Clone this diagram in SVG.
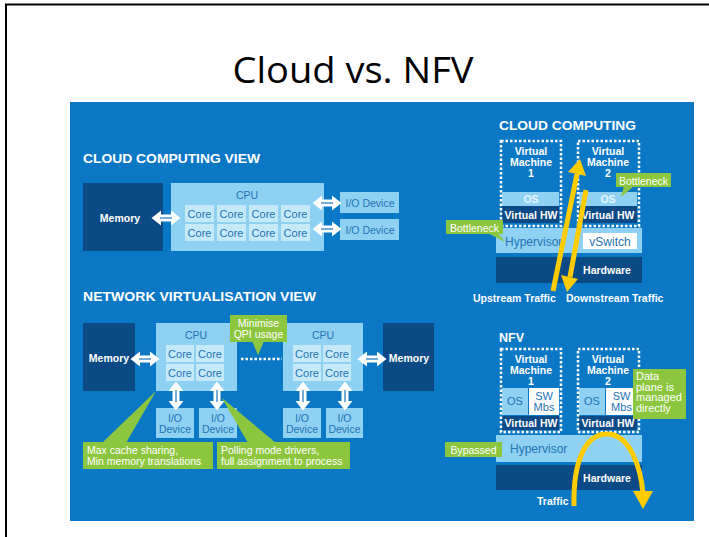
<svg xmlns="http://www.w3.org/2000/svg" width="709" height="537" viewBox="0 0 709 537">
<defs>
<style>
text{font-family:"Liberation Sans",Arial,sans-serif}
.h{fill:#fff;font-weight:bold;font-size:12.5px}
.w{fill:#fff;font-size:10.5px}
.wb{fill:#fff;font-size:10.5px;font-weight:bold}
.b{fill:#1f73b5;font-size:10.5px}
.dark{fill:#0c4a86}
.lb{fill:#8ed1f3}
.core{fill:#c6e9fa}
.grn{fill:#8cc63f}
.vm{fill:none;stroke:#fff;stroke-width:2.5;stroke-dasharray:2.5 2}
.yl{fill:none;stroke:#ffcc00;stroke-width:5}
.ya{fill:#ffcc00}
</style>
<g id="dbl">
<path d="M-14.5,0 L-5,-7.5 L-5,-3.5 L5,-3.5 L5,-7.5 L14.5,0 L5,7.5 L5,3.5 L-5,3.5 L-5,7.5 Z" fill="#fff"/>
<path d="M-6,0 H6" stroke="#2a7fc2" stroke-width="1.3"/>
</g>
</defs>
<rect width="709" height="537" fill="#fff"/>
<rect x="6" y="4.5" width="730" height="560" fill="none" stroke="#000" stroke-width="2"/>
<text x="353" y="83" font-size="37" text-anchor="middle" textLength="241" lengthAdjust="spacingAndGlyphs" style="font-family:'Open Sans','Liberation Sans',sans-serif" fill="#000">Cloud vs. NFV</text>
<rect x="70" y="102" width="624" height="419" fill="#0b78c6"/>

<!-- CLOUD COMPUTING VIEW -->
<text class="h" x="83" y="163" textLength="177" lengthAdjust="spacingAndGlyphs">CLOUD COMPUTING VIEW</text>
<g id="cc-memory"><rect class="dark" x="83" y="183" width="80" height="68"/><text class="wb" x="120" y="222" text-anchor="middle" font-size="11">Memory</text></g>
<g id="cc-cpu"><rect class="lb" x="171" y="183" width="153" height="68"/><text class="b" x="247" y="199" text-anchor="middle" font-size="11">CPU</text>
<g class="core">
<rect x="185" y="205" width="29" height="17"/><rect x="217" y="205" width="29" height="17"/><rect x="249" y="205" width="29" height="17"/><rect x="281" y="205" width="29" height="17"/>
<rect x="185" y="224" width="29" height="17"/><rect x="217" y="224" width="29" height="17"/><rect x="249" y="224" width="29" height="17"/><rect x="281" y="224" width="29" height="17"/>
</g>
<g class="b" text-anchor="middle" style="font-size:11px">
<text x="199.5" y="217.5">Core</text><text x="231.5" y="217.5">Core</text><text x="263.5" y="217.5">Core</text><text x="295.5" y="217.5">Core</text>
<text x="199.5" y="236.5">Core</text><text x="231.5" y="236.5">Core</text><text x="263.5" y="236.5">Core</text><text x="295.5" y="236.5">Core</text>
</g></g>
<g id="cc-io1"><rect class="lb" x="340" y="192" width="59" height="21"/><text class="b" x="370" y="206.5" text-anchor="middle">I/O Device</text></g>
<g id="cc-io2"><rect class="lb" x="340" y="219" width="59" height="21"/><text class="b" x="370" y="233.5" text-anchor="middle">I/O Device</text></g>

<!-- NETWORK VIRTUALISATION VIEW -->
<text class="h" x="83" y="301" textLength="233" lengthAdjust="spacingAndGlyphs">NETWORK VIRTUALISATION VIEW</text>
<g id="nv-mem1"><rect class="dark" x="83" y="323" width="52" height="68"/><text class="wb" x="109" y="362" text-anchor="middle" font-size="11">Memory</text></g>
<g id="nv-mem2"><rect class="dark" x="383" y="323" width="51" height="68"/><text class="wb" x="409" y="362" text-anchor="middle" font-size="11">Memory</text></g>
<g id="nv-cpu1"><rect class="lb" x="156" y="323" width="81" height="68"/><text class="b" x="196" y="339" text-anchor="middle" font-size="11">CPU</text>
<g class="core"><rect x="166" y="345" width="28" height="17"/><rect x="196" y="345" width="28" height="17"/><rect x="166" y="364" width="28" height="17"/><rect x="196" y="364" width="28" height="17"/></g>
<g class="b" text-anchor="middle" style="font-size:11px"><text x="180" y="357.5">Core</text><text x="210" y="357.5">Core</text><text x="180" y="376.5">Core</text><text x="210" y="376.5">Core</text></g></g>
<g id="nv-cpu2"><rect class="lb" x="283" y="323" width="80" height="68"/><text class="b" x="323" y="339" text-anchor="middle" font-size="11">CPU</text>
<g class="core"><rect x="293" y="345" width="28" height="17"/><rect x="323" y="345" width="28" height="17"/><rect x="293" y="364" width="28" height="17"/><rect x="323" y="364" width="28" height="17"/></g>
<g class="b" text-anchor="middle" style="font-size:11px"><text x="307" y="357.5">Core</text><text x="337" y="357.5">Core</text><text x="307" y="376.5">Core</text><text x="337" y="376.5">Core</text></g></g>
<g id="nv-io1"><rect class="lb" x="156" y="408" width="38" height="30"/><text class="b" x="175" y="422" text-anchor="middle">I/O</text><text class="b" x="175" y="433" text-anchor="middle">Device</text></g>
<g id="nv-io2"><rect class="lb" x="199" y="408" width="38" height="30"/><text class="b" x="218" y="422" text-anchor="middle">I/O</text><text class="b" x="218" y="433" text-anchor="middle">Device</text></g>
<g id="nv-io3"><rect class="lb" x="283" y="408" width="38" height="30"/><text class="b" x="302" y="422" text-anchor="middle">I/O</text><text class="b" x="302" y="433" text-anchor="middle">Device</text></g>
<g id="nv-io4"><rect class="lb" x="326" y="408" width="37" height="30"/><text class="b" x="344.5" y="422" text-anchor="middle">I/O</text><text class="b" x="344.5" y="433" text-anchor="middle">Device</text></g>

<g id="connectors">
<use href="#dbl" transform="translate(166,218)"/>
<use href="#dbl" transform="translate(327,203)"/>
<use href="#dbl" transform="translate(327,229)"/>
<use href="#dbl" transform="translate(145,359)"/>
<use href="#dbl" transform="translate(372,359)"/>
<use href="#dbl" transform="translate(176,396) rotate(90)"/>
<use href="#dbl" transform="translate(217,396) rotate(90)"/>
<use href="#dbl" transform="translate(303,396) rotate(90)"/>
<use href="#dbl" transform="translate(345,396) rotate(90)"/>
<path d="M241,359 H282" stroke="#fff" stroke-width="2.5" stroke-dasharray="2.5 2"/>
</g>

<g id="qpi"><polygon class="grn" points="252,341 264,341 258,355"/><rect class="grn" x="230" y="315" width="57" height="27"/>
<text class="w" x="258.5" y="327" text-anchor="middle" font-size="11">Minimise</text><text class="w" x="258.5" y="338" text-anchor="middle" font-size="11">QPI usage</text></g>
<g id="callout-cache"><polygon class="grn" points="102,443 126,443 156,391"/><rect class="grn" x="83" y="442" width="130" height="27"/>
<text class="w" x="87" y="453.5" font-size="11">Max cache sharing,</text><text class="w" x="87" y="465" font-size="11">Min memory translations</text></g>
<g id="callout-poll"><polygon class="grn" points="248,443 276,443 222,398"/><rect class="grn" x="217" y="442" width="133" height="27"/>
<text class="w" x="221" y="453.5" font-size="11">Polling mode drivers,</text><text class="w" x="221" y="465" font-size="11">full assignment to process</text></g>

<!-- CLOUD COMPUTING (right) -->
<text class="h" x="499" y="130" font-size="13" textLength="137" lengthAdjust="spacingAndGlyphs">CLOUD COMPUTING</text>
<g id="cc-hyper"><rect class="lb" x="496" y="228" width="146" height="25"/><text class="b" x="505" y="245.5" style="font-size:12px">Hypervisor</text>
<rect x="583" y="233" width="54" height="16" fill="#fff"/><text class="b" x="610" y="245.5" text-anchor="middle" style="font-size:12px">vSwitch</text></g>
<g id="cc-hw"><rect class="dark" x="496" y="257" width="146" height="26"/><text class="wb" x="607" y="274" text-anchor="middle">Hardware</text></g>
<g id="cc-vm1"><rect class="lb" x="502" y="192" width="57" height="14"/><rect class="dark" x="502" y="206" width="57" height="17"/>
<rect class="vm" x="501" y="141" width="60" height="85"/>
<g class="wb" text-anchor="middle" style="font-size:10.5px"><text x="531" y="155">Virtual</text><text x="531" y="166">Machine</text><text x="531" y="177">1</text><text x="531" y="203" fill="#e6f6ff">OS</text><text x="531" y="218.5">Virtual HW</text></g></g>
<g id="cc-vm2"><rect class="lb" x="579" y="192" width="58" height="14"/><rect class="dark" x="579" y="206" width="58" height="17"/>
<rect class="vm" x="578" y="141" width="61" height="85"/>
<g class="wb" text-anchor="middle" style="font-size:10.5px"><text x="608" y="155">Virtual</text><text x="608" y="166">Machine</text><text x="608" y="177">2</text><text x="608" y="203" fill="#e6f6ff">OS</text><text x="608" y="218.5">Virtual HW</text></g></g>
<g id="cc-traffic">
<path class="yl" d="M553,291 L577,174"/><polygon class="ya" points="580,159 586,176 568,172"/>
<path class="yl" d="M586,190 L570,277"/><polygon class="ya" points="567,292 561,275 578,279"/>
</g>
<g id="bottleneck1"><polygon class="grn" points="488,233 498,233 505,242"/><rect class="grn" x="446" y="220" width="57" height="14"/><text class="w" x="474.5" y="231.5" text-anchor="middle" font-size="11">Bottleneck</text></g>
<g id="bottleneck2"><polygon class="grn" points="624,186 634,186 621,197"/><rect class="grn" x="616" y="173" width="55" height="14"/><text class="w" x="643.5" y="184.5" text-anchor="middle" font-size="11">Bottleneck</text></g>
<text class="wb" x="473" y="302">Upstream Traffic</text>
<text class="wb" x="566" y="302">Downstream Traffic</text>

<!-- NFV -->
<text class="h" x="499" y="342" font-size="13">NFV</text>
<g id="nfv-hyper"><rect class="lb" x="496" y="435" width="146" height="27"/><text class="b" x="510" y="453" style="font-size:12px">Hypervisor</text></g>
<g id="nfv-hw"><rect class="dark" x="496" y="465" width="146" height="25"/><text class="wb" x="607" y="482" text-anchor="middle">Hardware</text></g>
<g id="nfv-vm1"><rect class="lb" x="502" y="388" width="26" height="27"/><rect x="529" y="388" width="30" height="27" fill="#fff"/><rect class="dark" x="502" y="416" width="57" height="14"/>
<rect class="vm" x="501" y="349" width="60" height="83"/>
<g text-anchor="middle"><text class="wb" x="531" y="363">Virtual</text><text class="wb" x="531" y="374">Machine</text><text class="wb" x="531" y="385">1</text>
<text class="b" x="515" y="405" style="font-size:11px">OS</text><text class="b" x="544" y="400" style="font-size:11px">SW</text><text class="b" x="544" y="411" style="font-size:11px">Mbs</text><text class="wb" x="531" y="427">Virtual HW</text></g></g>
<g id="nfv-vm2"><rect class="lb" x="579" y="388" width="26" height="27"/><rect x="606" y="388" width="31" height="27" fill="#fff"/><rect class="dark" x="579" y="416" width="58" height="14"/>
<rect class="vm" x="578" y="349" width="61" height="83"/>
<g text-anchor="middle"><text class="wb" x="608" y="363">Virtual</text><text class="wb" x="608" y="374">Machine</text><text class="wb" x="608" y="385">2</text>
<text class="b" x="592" y="405" style="font-size:11px">OS</text><text class="b" x="621.5" y="400" style="font-size:11px">SW</text><text class="b" x="621.5" y="411" style="font-size:11px">Mbs</text><text class="wb" x="608" y="427">Virtual HW</text></g></g>
<g id="nfv-traffic"><path class="yl" d="M574,506 C573,462 585,434 607,434 C630,434 641,468 643,494"/><polygon class="ya" points="643,509 633,491 653,491"/></g>
<g id="data-plane"><rect class="grn" x="633" y="369" width="53" height="50"/>
<g class="w" style="font-size:11px"><text x="636" y="380">Data</text><text x="636" y="390.5">plane is</text><text x="636" y="401">managed</text><text x="636" y="411.5">directly</text></g></g>
<g id="bypassed"><rect class="grn" x="445" y="442" width="57" height="15"/><text class="w" x="473.5" y="453.5" text-anchor="middle" font-size="11">Bypassed</text></g>
<text class="wb" x="537" y="505">Traffic</text>
</svg>
